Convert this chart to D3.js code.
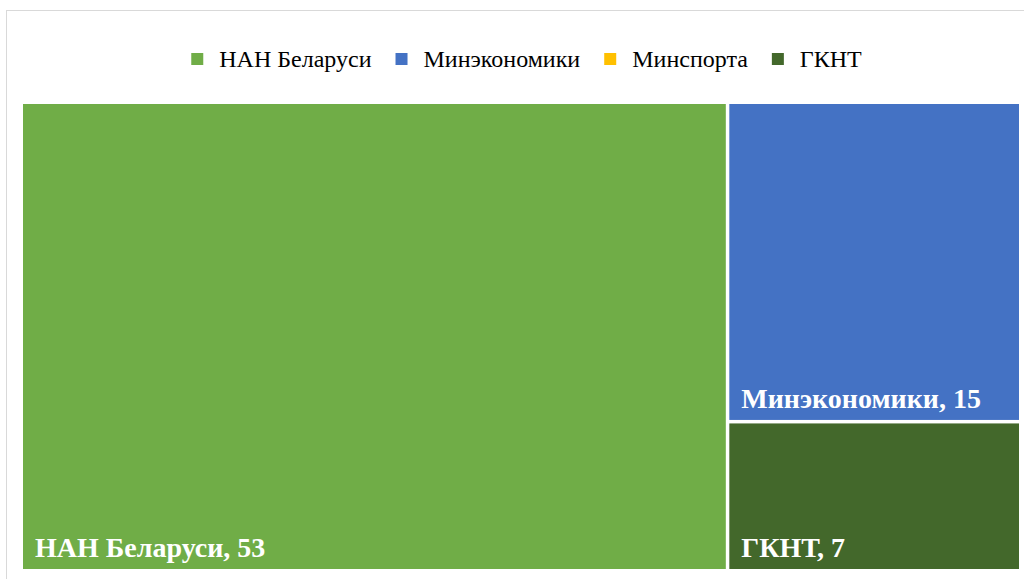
<!DOCTYPE html>
<html>
<head>
<meta charset="utf-8">
<script src="https://cdn.jsdelivr.net/npm/d3@7"></script>
<style>
    body { margin: 0; background: #fff; }
    svg { display: block; }
</style>
</head>
<body>
<svg id="chart" width="1024" height="579"></svg>
<script>
var categories = ['НАН Беларуси', 'Минэкономики', 'Минспорта', 'ГКНТ'];
var values = [53, 15, 0, 7];
var colors = ['#70AD47', '#4472C4', '#FFC000', '#43682B'];

var svg = d3.select('#chart');

var font = '"Liberation Serif", "Times New Roman", serif';

// chart frame
svg.append('rect')
    .attr('x', 6.5)
    .attr('y', 10.5)
    .attr('width', 1030)
    .attr('height', 600)
    .style('fill', '#fff')
    .style('stroke', '#d9d9d9')
    .style('stroke-width', 1);

var color = d3.scaleOrdinal().domain(categories).range(colors);

var root = d3.hierarchy({
    children: categories.map(function (c, i) {
        return { name: c, value: values[i] };
    })
})
    .sum(function (d) { return d.value || 0; })
    .sort(function (a, b) { return b.value - a.value; });

d3.treemap()
    .tile(d3.treemapSquarify)
    .size([996, 465])
    .paddingInner(3.5)(root);

var plot = svg.append('g')
    .attr('class', 'plot')
    .attr('transform', 'translate(23,104)');

var leaf = plot.selectAll('.leaf')
    .data(root.leaves().filter(function (d) { return d.value > 0; }))
    .enter().append('g')
    .attr('class', 'leaf')
    .attr('transform', function (d) {
        return 'translate(' + d.x0 + ',' + d.y0 + ')';
    });

leaf.append('rect')
    .attr('width', function (d) { return d.x1 - d.x0; })
    .attr('height', function (d) { return d.y1 - d.y0; })
    .style('fill', function (d) { return color(d.data.name); });

leaf.append('text')
    .attr('x', 12)
    .attr('y', function (d) { return d.y1 - d.y0 - 12; })
    .style('font-family', font)
    .style('font-size', '28px')
    .style('font-weight', 'bold')
    .style('fill', '#fff')
    .text(function (d) { return d.data.name + ', ' + d.value; });

// legend
var legend = svg.append('g').attr('class', 'legend');

var legendItem = legend.selectAll('.item')
    .data(categories)
    .enter().append('g')
    .attr('class', 'item');

legendItem.append('rect')
    .attr('x', 0)
    .attr('y', -6)
    .attr('width', 12)
    .attr('height', 12)
    .style('fill', function (d) { return color(d); });

legendItem.append('text')
    .attr('x', 28)
    .attr('y', 8)
    .style('font-family', font)
    .style('font-size', '24px')
    .style('fill', '#000')
    .text(function (d) { return d; });

var offsets = [], widthSum = 0;
legendItem.each(function (d, i) {
    offsets.push(widthSum);
    widthSum += 28 + d3.select(this).select('text').node().getComputedTextLength() + 24;
});
widthSum -= 24;
var startX = 526.5 - widthSum / 2;

legendItem.attr('transform', function (d, i) {
    return 'translate(' + (startX + offsets[i]) + ',59)';
});
</script>
</body>
</html>
